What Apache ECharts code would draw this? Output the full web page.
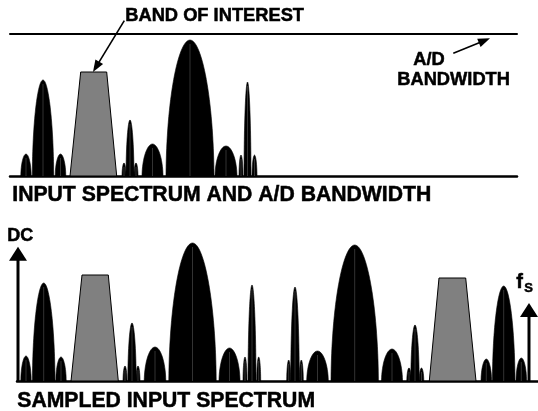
<!DOCTYPE html>
<html><head><meta charset="utf-8">
<script src="https://cdn.jsdelivr.net/npm/echarts@6/dist/echarts.min.js"></script>
<style>html,body{margin:0;padding:0;background:#fff}#c{width:538px;height:411px}</style>
</head><body><div id="c"></div>
<script>
// Input spectrum peaks: [center, halfWidth, height]
const inputPeaks = [
  [26, 5.2, 22], [43, 10.7, 96], [60.5, 5.3, 22],
  [124, 2, 13], [130, 4, 56], [136, 2, 13],
  [152.5, 10.5, 32], [190, 24, 136], [226, 11, 30],
  [241, 2, 21], [247.5, 3.5, 94], [254.5, 2.5, 21]
];
// Band of interest: [bottomLeft, topLeft, topRight, bottomRight, height]
const inputBand = [[70, 80.7, 106.7, 116.7, 104]];

// Sampled spectrum peaks: [center, halfWidth, height]
const sampledPeaks = [
  [26, 5.2, 25], [43.7, 11.3, 98], [61, 5.2, 24],
  [125, 2, 15], [132, 4.2, 58], [138, 2, 15],
  [155, 10.8, 34], [192.5, 23.7, 138], [229.5, 10.5, 33],
  [245, 2, 24], [252, 4, 96], [258.7, 2, 24],
  [288.7, 2, 21], [295, 4.3, 94], [301.3, 2, 21],
  [317.5, 10.8, 30], [354.7, 23.7, 136], [392, 10.5, 32],
  [409, 2.2, 13], [415, 4.2, 56], [421.5, 2.3, 13],
  [486.3, 5.3, 22], [503.7, 11.3, 95], [521.3, 5.3, 23]
];
const sampledBands = [[71, 82, 108.3, 118.3, 106], [429.3, 439, 465.7, 476, 103]];

// Annotation arrows [x1, y1, x2, y2] in each panel's coordinates
const topArrows = [[124.3, 155.3, 93, 104], [453.3, 122.7, 490, 137.7]];
const axisArrows = [[18, 0, 18, 134.3], [529, 0, 529, 78]];

const FONT = "'Liberation Sans', Arial, sans-serif";

function peakItem(params, api) {
  const c = api.value(0), hw = api.value(1), h = api.value(2);
  const L = api.coord([c - hw, 0]), T = api.coord([c, h]), R = api.coord([c + hw, 0]);
  const hp = (R[0] - L[0]) / 2, H = L[1] - T[1];
  const d = `M${L[0]} ${L[1]} C${L[0] + 0.02 * hp} ${L[1] - 0.56 * H} ${T[0] - 0.5 * hp} ${T[1]} ${T[0]} ${T[1]} ` +
            `C${T[0] + 0.5 * hp} ${T[1]} ${R[0] - 0.02 * hp} ${R[1] - 0.56 * H} ${R[0]} ${R[1]} Z`;
  return { type: 'group', children: [
    { type: 'path', shape: { pathData: d }, style: { fill: '#000', stroke: '#000', lineWidth: 0.6 } },
    { type: 'line', shape: { x1: T[0], y1: T[1] + 4, x2: T[0], y2: L[1] }, style: { stroke: '#555', lineWidth: 0.6 } }
  ]};
}
function bandItem(params, api) {
  const h = api.value(4);
  const pts = [api.coord([api.value(0), 0]), api.coord([api.value(1), h]), api.coord([api.value(2), h]), api.coord([api.value(3), 0])];
  return { type: 'polygon', shape: { points: pts }, style: { fill: '#808080', stroke: '#000', lineWidth: 1 } };
}
function arrowMaker(headLen, headW, shaftW) {
  return function (params, api) {
    const P1 = api.coord([api.value(0), api.value(1)]), P2 = api.coord([api.value(2), api.value(3)]);
    const dx = P2[0] - P1[0], dy = P2[1] - P1[1], len = Math.hypot(dx, dy);
    const ux = dx / len, uy = dy / len, nx = -uy, ny = ux;
    const B = [P2[0] - ux * headLen, P2[1] - uy * headLen];
    return { type: 'group', children: [
      { type: 'line', shape: { x1: P1[0], y1: P1[1], x2: B[0] + ux, y2: B[1] + uy }, style: { stroke: '#000', lineWidth: shaftW } },
      { type: 'polygon', shape: { points: [P2, [B[0] + nx * headW / 2, B[1] + ny * headW / 2], [B[0] - nx * headW / 2, B[1] - ny * headW / 2]] }, style: { fill: '#000' } }
    ]};
  };
}

function label(text, left, top, size) {
  return { type: 'text', left: left, top: top, style: { text: text, font: `bold ${size}px ${FONT}`, fill: '#000', stroke: '#000', lineWidth: 0.5 } };
}

const hidden = { axisTick: { show: false }, axisLabel: { show: false }, splitLine: { show: false } };
const chart = echarts.init(document.getElementById('c'));
chart.setOption({
  animation: false,
  backgroundColor: '#fff',
  grid: [
    { left: 10, right: 21, top: 34, bottom: 235 },
    { left: 17, right: 0, top: 241, bottom: 30 }
  ],
  xAxis: [
    Object.assign({ type: 'value', gridIndex: 0, min: 10, max: 517, position: 'bottom', axisLine: { lineStyle: { color: '#000', width: 2.5 } } }, hidden),
    Object.assign({ type: 'value', gridIndex: 0, min: 10, max: 517, position: 'top', axisLine: { lineStyle: { color: '#000', width: 2 } } }, hidden),
    Object.assign({ type: 'value', gridIndex: 1, min: 17, max: 538, position: 'bottom', axisLine: { lineStyle: { color: '#000', width: 2.5 } } }, hidden)
  ],
  yAxis: [
    Object.assign({ type: 'value', gridIndex: 0, min: 0, max: 142, show: false }, hidden),
    Object.assign({ type: 'value', gridIndex: 1, min: 0, max: 140, show: false }, hidden)
  ],
  series: [
    { type: 'custom', xAxisIndex: 0, yAxisIndex: 0, data: inputBand, renderItem: bandItem, encode: { x: 0, y: 4 }, z: 2 },
    { type: 'custom', xAxisIndex: 0, yAxisIndex: 0, data: inputPeaks, renderItem: peakItem, encode: { x: 0, y: 2 }, z: 2 },
    { type: 'custom', xAxisIndex: 0, yAxisIndex: 0, data: topArrows, renderItem: arrowMaker(12, 9, 1.6), encode: { x: 0, y: 1 }, z: 3, clip: false },
    { type: 'custom', xAxisIndex: 2, yAxisIndex: 1, data: sampledBands, renderItem: bandItem, encode: { x: 0, y: 4 }, z: 2 },
    { type: 'custom', xAxisIndex: 2, yAxisIndex: 1, data: sampledPeaks, renderItem: peakItem, encode: { x: 0, y: 2 }, z: 2 },
    { type: 'custom', xAxisIndex: 2, yAxisIndex: 1, data: axisArrows, renderItem: arrowMaker(14, 18, 3), encode: { x: 0, y: 1 }, z: 3, clip: false }
  ],
  graphic: [
    label('BAND OF INTEREST', 125, 7, 18.3),
    label('A/D', 413, 51, 18.3),
    label('BANDWIDTH', 397, 71, 18.3),
    label('INPUT SPECTRUM AND A/D BANDWIDTH', 12, 184, 21.2),
    label('DC', 7, 227, 18),
    label('f', 516, 272, 20),
    label('S', 524, 282, 13),
    label('SAMPLED INPUT SPECTRUM', 17, 390, 21.2)
  ]
});
</script></body></html>
